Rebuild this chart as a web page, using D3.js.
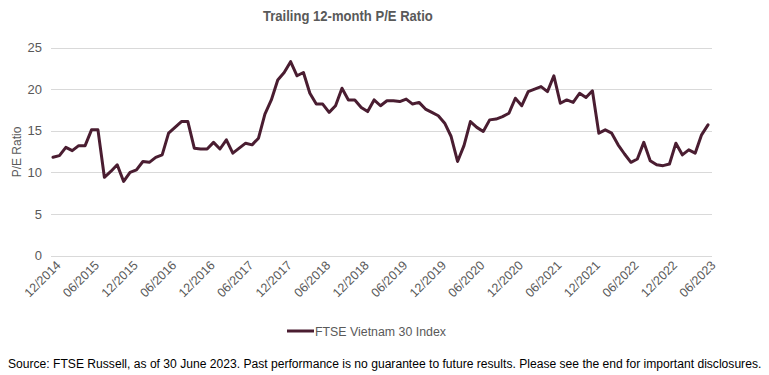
<!DOCTYPE html>
<html>
<head>
<meta charset="utf-8">
<script src="https://cdn.jsdelivr.net/npm/d3@7"></script>
<style>
  html, body { margin: 0; padding: 0; background: #fff; }
  svg { display: block; }
</style>
</head>
<body>
<svg id="chart" width="769" height="375"></svg>
<script>
// ---- data ----
const title = "Trailing 12-month P/E Ratio";
const yAxisTitle = "P/E Ratio";
const seriesName = "FTSE Vietnam 30 Index";
const sourceNote = "Source: FTSE Russell, as of 30 June 2023. Past performance is no guarantee to future results. Please see the end for important disclosures.";
const startMonth = { year: 2014, month: 12 };
const peValues = [
  11.8, 12.0, 13.0, 12.6, 13.2, 13.2, 15.1, 15.1, 9.4, 10.1, 10.9, 8.9,
  10.0, 10.3, 11.3, 11.2, 11.8, 12.1, 14.7, 15.4, 16.1, 16.1, 12.9, 12.8,
  12.8, 13.6, 12.8, 13.9, 12.3, 12.9, 13.5, 13.3, 14.1, 17.0, 18.7, 21.1,
  22.0, 23.3, 21.6, 22.0, 19.5, 18.2, 18.2, 17.2, 18.0, 20.1, 18.7, 18.7,
  17.8, 17.3, 18.7, 18.0, 18.6, 18.6, 18.5, 18.8, 18.2, 18.4, 17.6, 17.2,
  16.8, 15.9, 14.3, 11.3, 13.2, 16.1, 15.4, 14.9, 16.3, 16.4, 16.7, 17.1,
  18.9, 18.0, 19.7, 20.0, 20.3, 19.7, 21.6, 18.3, 18.7, 18.4, 19.5, 19.0,
  19.8, 14.7, 15.1, 14.7, 13.3, 12.2, 11.2, 11.6, 13.6, 11.4, 10.9, 10.8,
  11.0, 13.5, 12.1, 12.7, 12.3, 14.5, 15.7
];
const yTicks = [0, 5, 10, 15, 20, 25];
const xTickLabels = ["12/2014","06/2015","12/2015","06/2016","12/2016","06/2017","12/2017","06/2018",
  "12/2018","06/2019","12/2019","06/2020","12/2020","06/2021","12/2021","06/2022","12/2022","06/2023"];

// month categories (MM/YYYY) for each value
const categories = peValues.map((_, i) => {
  const m0 = startMonth.month - 1 + i;
  const y = startMonth.year + Math.floor(m0 / 12);
  const m = (m0 % 12) + 1;
  return (m < 10 ? "0" + m : "" + m) + "/" + y;
});
const data = peValues.map((v, i) => ({ cat: categories[i], value: v }));

// ---- layout ----
const svg = d3.select("#chart");
const plotLeft = 51, plotRight = 712;
const x = d3.scalePoint().domain(categories).range([53, 708]);
const y = d3.scaleLinear().domain([0, 25]).range([255.5, 47.5]);

const textColor = "#595959";
const gridColor = "#d9d9d9";
const lineColor = "#4a1d31";
const narrowFont = "'Liberation Sans Narrow', 'Arial Narrow', 'Liberation Sans', Arial, sans-serif";
const regularFont = "'Liberation Sans', Arial, sans-serif";

// condensed text: draws text at (x0, yBase) and squeezes it horizontally to targetWidth
function condensedText(parent, str, x0, yBase, targetWidth, size, weight, fill, anchor) {
  const g = parent.append("g");
  const t = g.append("text")
    .attr("x", 0).attr("y", 0)
    .attr("font-family", narrowFont)
    .attr("font-size", size)
    .attr("font-weight", weight)
    .attr("fill", fill)
    .text(str);
  const w = t.node().getComputedTextLength();
  const s = Math.min(1, targetWidth / w);
  const left = anchor === "middle" ? x0 - (w * s) / 2 : x0;
  g.attr("transform", `translate(${left},${yBase}) scale(${s},1)`);
  return g;
}

// title
condensedText(svg, title, 348, 21, 170, 14, "bold", textColor, "middle");

// gridlines
svg.append("g").selectAll("line")
  .data(yTicks).join("line")
  .attr("x1", plotLeft).attr("x2", plotRight)
  .attr("y1", d => Math.round(y(d)) + 0.5).attr("y2", d => Math.round(y(d)) + 0.5)
  .attr("stroke", gridColor).attr("stroke-width", 1);

// y axis labels
const yAxis = d3.axisLeft(y).tickValues(yTicks).tickSize(0).tickPadding(0);
const gy = svg.append("g").attr("transform", "translate(42,0)").call(yAxis);
gy.select(".domain").remove();
gy.selectAll("text")
  .attr("font-family", regularFont)
  .attr("font-size", 13)
  .attr("fill", textColor);

// y axis title
svg.append("text")
  .attr("transform", "translate(21,152) rotate(-90)")
  .attr("text-anchor", "middle")
  .attr("font-family", regularFont)
  .attr("font-size", 12)
  .attr("fill", textColor)
  .text(yAxisTitle);

// x axis labels
const xAxis = d3.axisBottom(x).tickValues(xTickLabels).tickSize(0).tickPadding(0);
const gx = svg.append("g").attr("transform", "translate(0,262)").call(xAxis);
gx.select(".domain").remove();
gx.selectAll("text")
  .attr("font-family", regularFont)
  .attr("font-size", 12.5)
  .attr("fill", textColor)
  .attr("text-anchor", "end")
  .attr("dy", null)
  .attr("y", 0)
  .attr("transform", "translate(8,4) rotate(-45)");

// line
const line = d3.line().x(d => x(d.cat)).y(d => y(d.value));
svg.append("path")
  .datum(data)
  .attr("d", line)
  .attr("fill", "none")
  .attr("stroke", lineColor)
  .attr("stroke-width", 3)
  .attr("stroke-linejoin", "round")
  .attr("stroke-linecap", "round");

// legend
svg.append("line")
  .attr("x1", 287).attr("x2", 314).attr("y1", 331).attr("y2", 331)
  .attr("stroke", lineColor).attr("stroke-width", 3);
condensedText(svg, seriesName, 315, 336, 131, 13.5, "normal", textColor, "start");

// source note
condensedText(svg, sourceNote, 8, 368, 754, 13.5, "normal", "#000", "start");
</script>
</body>
</html>
